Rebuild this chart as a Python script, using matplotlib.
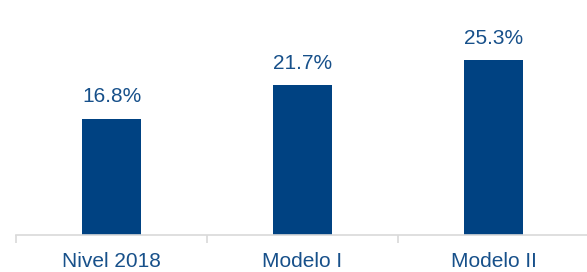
import matplotlib
matplotlib.use("Agg")
import matplotlib.pyplot as plt

categories = ["Nivel 2018", "Modelo I", "Modelo II"]
values = [16.8, 21.7, 25.3]
labels = ["16.8%", "21.7%", "25.3%"]

plt.rcParams['font.family'] = ['Liberation Sans', 'DejaVu Sans']
bar_color = "#004282"
text_color = "#17508A"

fig = plt.figure(figsize=(5.87, 2.72), dpi=100)
ax = fig.add_axes([16/587, 1 - 235/272, (589-16)/587, 235/272])
x = list(range(len(categories)))
bars = ax.bar(x, values, width=0.31, color=bar_color)
for xi, v, lab in zip(x, values, labels):
    ax.annotate(lab, (xi, v), xytext=(0, 9), textcoords="offset points",
                ha="center", va="bottom", fontsize=15, color=text_color)
ax.set_xlim(-0.5, 2.5)
ax.set_ylim(0, 34)
for s in ["top", "right", "left"]:
    ax.spines[s].set_visible(False)
ax.spines["bottom"].set_color("#D9D9D9")
ax.spines["bottom"].set_linewidth(1.2)
ax.set_yticks([])
ax.set_xticks([-0.5, 0.5, 1.5], minor=False)
ax.set_xticklabels([])
ax.tick_params(axis="x", which="major", length=6, color="#D9D9D9", width=1.2)
ax.set_xticks(x, minor=True)
ax.set_xticklabels(categories, minor=True, fontsize=15, color=text_color)
ax.tick_params(axis="x", which="minor", length=0, pad=12)
fig.savefig("out.png", dpi=100)
